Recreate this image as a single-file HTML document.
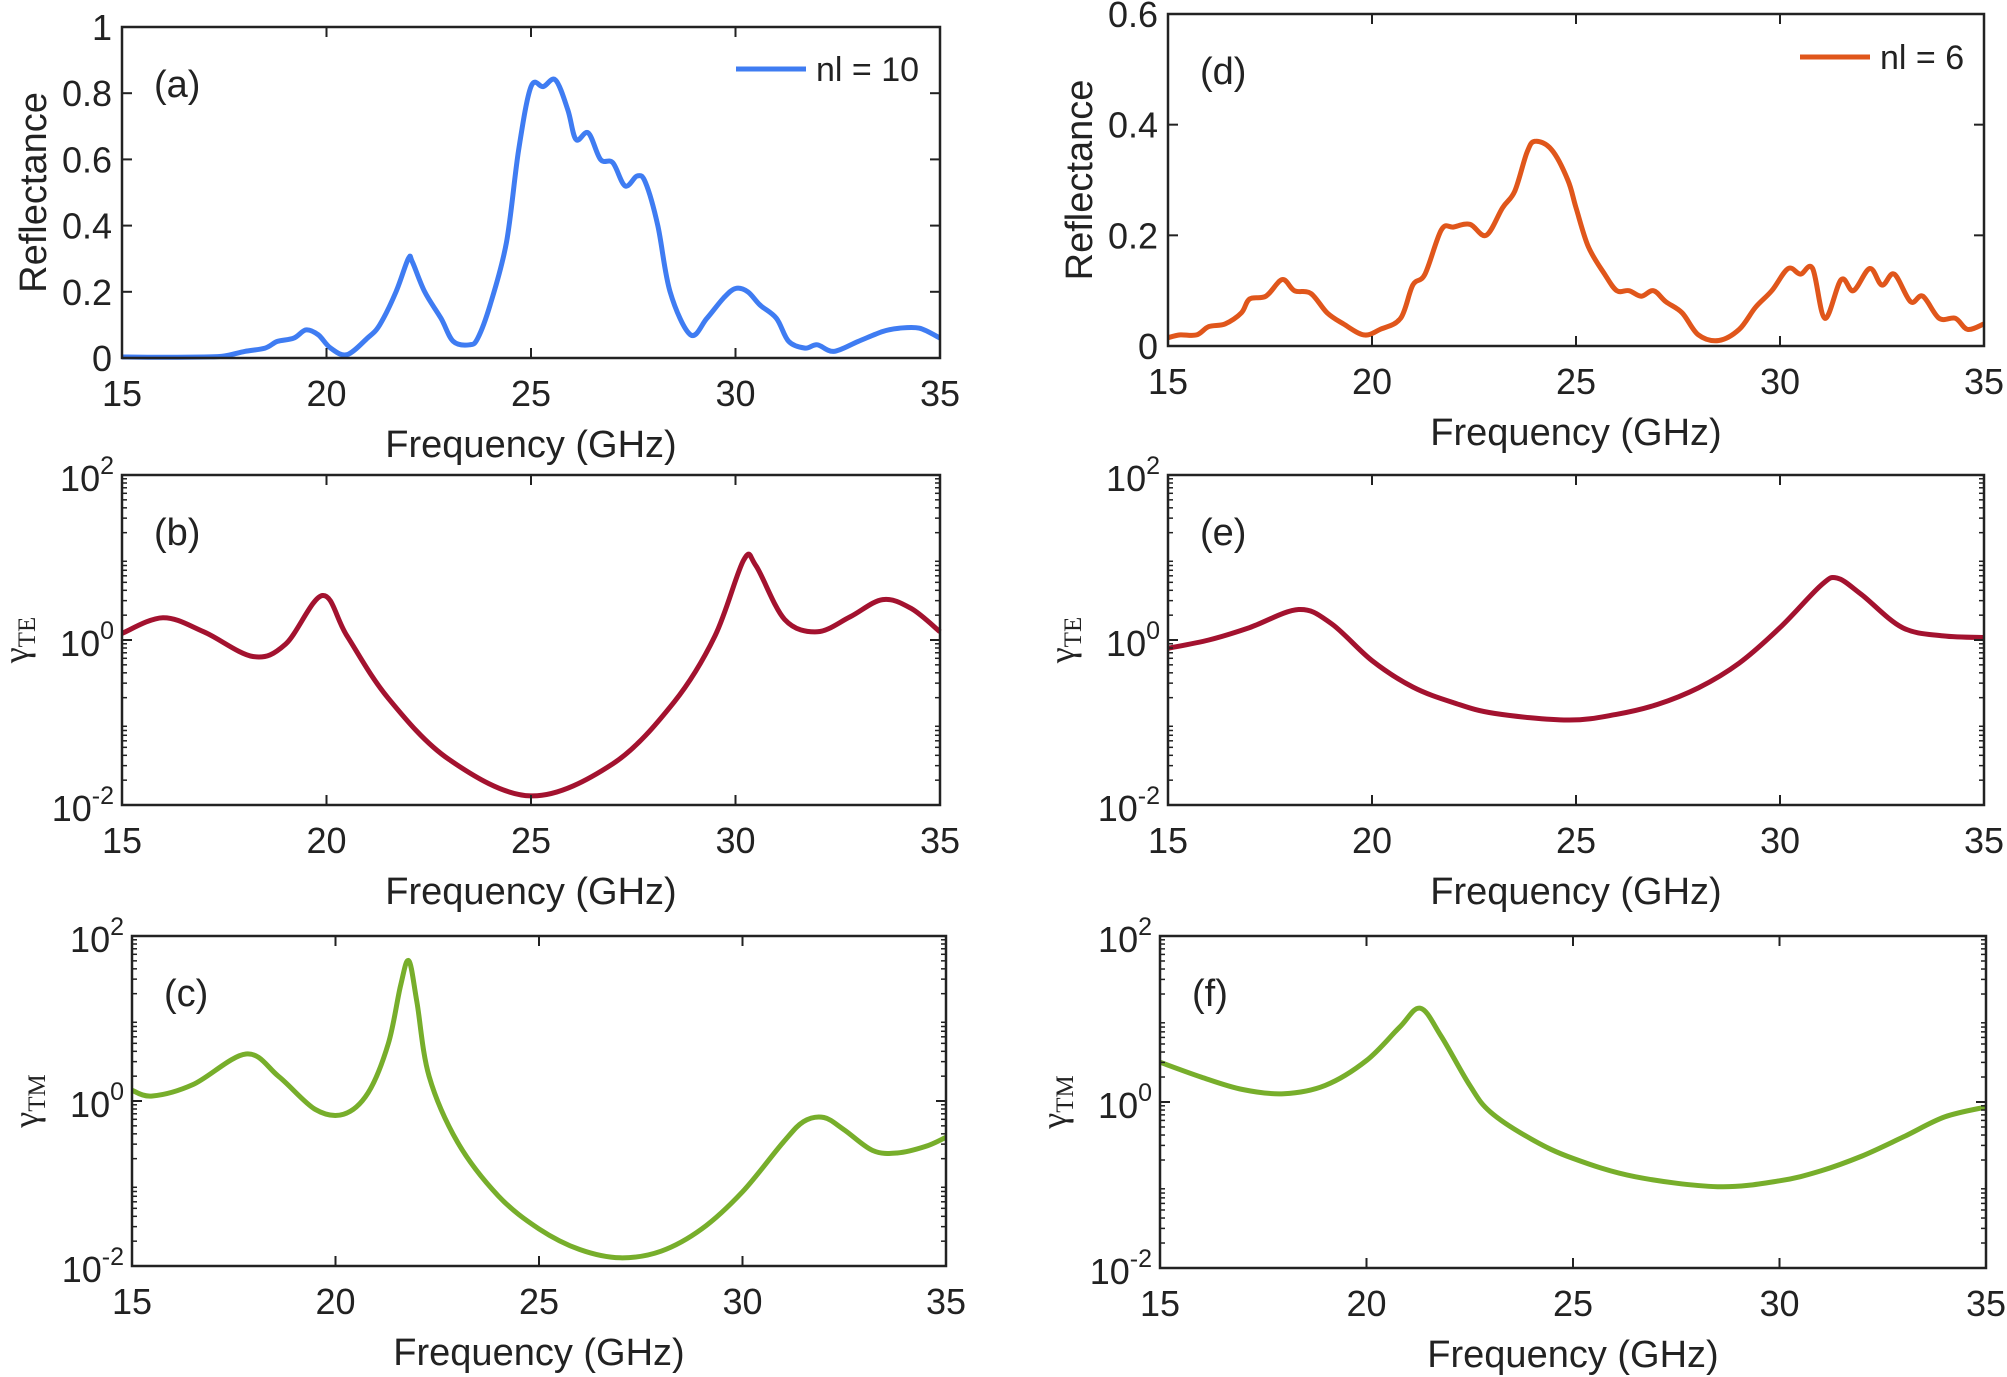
<!DOCTYPE html>
<html><head><meta charset="utf-8"><style>
html,body{margin:0;padding:0;background:#fff;}
svg{display:block;}
text{font-family:"Liberation Sans",sans-serif;fill:#222;}
</style></head><body>
<svg id="s" width="2007" height="1377" viewBox="0 0 2007 1377" xmlns="http://www.w3.org/2000/svg"></svg>
<script>
const S=document.getElementById('s');let h='';
function cr(pts){let d='M'+pts[0][0].toFixed(1)+','+pts[0][1].toFixed(1);
for(let i=0;i<pts.length-1;i++){const p0=pts[Math.max(0,i-1)],p1=pts[i],p2=pts[i+1],p3=pts[Math.min(pts.length-1,i+2)];
const c1=[p1[0]+(p2[0]-p0[0])/6,p1[1]+(p2[1]-p0[1])/6],c2=[p2[0]-(p3[0]-p1[0])/6,p2[1]-(p3[1]-p1[1])/6];
d+=' C'+c1.map(v=>v.toFixed(1))+' '+c2.map(v=>v.toFixed(1))+' '+p2.map(v=>v.toFixed(1));}return d;}
function panel(o){const {x0,x1,y0,y1,ymin,ymax,log,data,color,lab,ylab,yticks}=o;
const X=f=>x0+(f-15)/20*(x1-x0),Y=v=>y1-(v-ymin)/(ymax-ymin)*(y1-y0);
h+=`<path d="${cr(data.map(p=>[X(p[0]),Y(p[1])]))}" fill="none" stroke="${color}" stroke-width="5" stroke-linejoin="round"/>`;
h+=`<rect x="${x0}" y="${y0}" width="${x1-x0}" height="${y1-y0}" fill="none" stroke="#222" stroke-width="2.5"/>`;
for(let f=15;f<=35;f+=5){const x=X(f);h+=`<line x1="${x}" y1="${y1}" x2="${x}" y2="${y1-10}" stroke="#222" stroke-width="2"/><line x1="${x}" y1="${y0}" x2="${x}" y2="${y0+10}" stroke="#222" stroke-width="2"/>`;
h+=`<text x="${x}" y="${y1+48}" font-size="36" text-anchor="middle">${f}</text>`;}
if(log){for(let d=-2;d<=2;d+=2){const y=Y(d);h+=`<line x1="${x0}" y1="${y}" x2="${x0+10}" y2="${y}" stroke="#222" stroke-width="2"/><line x1="${x1}" y1="${y}" x2="${x1-10}" y2="${y}" stroke="#222" stroke-width="2"/>`;
h+=`<text x="${x0-8}" y="${y+16}" font-size="36" text-anchor="end">10<tspan dy="-17" font-size="25">${d}</tspan></text>`;}
for(let d=-2;d<2;d++)for(let k=2;k<=9;k++){const y=Y(d+Math.log10(k));h+=`<line x1="${x0}" y1="${y}" x2="${x0+5}" y2="${y}" stroke="#222" stroke-width="1.5"/><line x1="${x1}" y1="${y}" x2="${x1-5}" y2="${y}" stroke="#222" stroke-width="1.5"/>`;}
h+=`<text transform="translate(${x0-94},${(y0+y1)/2}) rotate(-90)" font-size="36" text-anchor="middle" style="font-family:'Liberation Serif',serif">γ<tspan font-size="25" dy="7">${ylab}</tspan></text>`;
}else{yticks.forEach(t=>{const y=Y(t);h+=`<line x1="${x0}" y1="${y}" x2="${x0+10}" y2="${y}" stroke="#222" stroke-width="2"/><line x1="${x1}" y1="${y}" x2="${x1-10}" y2="${y}" stroke="#222" stroke-width="2"/>`;
h+=`<text x="${x0-10}" y="${y+13}" font-size="36" text-anchor="end">${t}</text>`;});
h+=`<text transform="translate(${x0-76},${(y0+y1)/2}) rotate(-90)" font-size="38" text-anchor="middle">Reflectance</text>`;}
h+=`<text x="${(x0+x1)/2}" y="${y1+99}" font-size="38" text-anchor="middle">Frequency (GHz)</text>`;
h+=`<text x="${x0+32}" y="${y0+70}" font-size="38">${lab}</text>`;}
panel({x0:122,x1:940,y0:27,y1:358,ymin:0,ymax:1,yticks:[0,0.2,0.4,0.6,0.8,1],color:'#3f7cf2',lab:'(a)',data:[[15,.003],[16,.002],[17,.003],[17.5,.006],[18,.02],[18.5,.03],[18.8,.05],[19.2,.06],[19.5,.085],[19.8,.07],[20.1,.03],[20.5,.01],[21,.06],[21.3,.1],[21.7,.2],[22,.3],[22.1,.29],[22.4,.2],[22.8,.12],[23.1,.05],[23.5,.04],[23.7,.06],[24,.16],[24.4,.35],[24.7,.63],[25,.82],[25.3,.82],[25.6,.84],[25.9,.75],[26.1,.66],[26.4,.68],[26.7,.6],[27,.59],[27.3,.52],[27.6,.55],[27.8,.53],[28.1,.4],[28.4,.2],[28.9,.07],[29.3,.12],[29.7,.18],[30,.21],[30.3,.2],[30.6,.16],[31,.12],[31.3,.05],[31.7,.03],[32,.04],[32.4,.02],[33,.05],[33.6,.08],[34,.09],[34.5,.09],[35,.06]]});
panel({x0:1168,x1:1984,y0:14,y1:346,ymin:0,ymax:0.6,yticks:[0,0.2,0.4,0.6],color:'#e0561b',lab:'(d)',data:[[15,.015],[15.3,.02],[15.7,.02],[16,.035],[16.4,.04],[16.8,.06],[17,.085],[17.4,.09],[17.8,.12],[18.1,.1],[18.5,.095],[18.9,.06],[19.3,.04],[19.8,.02],[20.2,.03],[20.7,.05],[21,.11],[21.3,.13],[21.7,.21],[22,.215],[22.4,.22],[22.8,.2],[23.2,.25],[23.5,.28],[23.8,.35],[24,.37],[24.4,.355],[24.8,.3],[25,.25],[25.3,.18],[25.7,.13],[26,.1],[26.3,.1],[26.6,.09],[26.9,.1],[27.2,.08],[27.6,.06],[28,.02],[28.5,.01],[29,.03],[29.4,.07],[29.8,.1],[30.2,.14],[30.5,.13],[30.8,.14],[31.1,.05],[31.5,.12],[31.8,.1],[32.2,.14],[32.5,.11],[32.8,.13],[33.2,.08],[33.5,.09],[33.9,.05],[34.3,.05],[34.6,.03],[35,.04]]});
panel({x0:122,x1:940,y0:475,y1:805,ymin:-2,ymax:2,log:1,ylab:'TE',color:'#a3122f',lab:'(b)',data:[[15,.08],[16,.27],[17,.1],[18.2,-.2],[19,-.05],[19.9,.54],[20.5,.05],[21.5,-.7],[23,-1.45],[25,-1.89],[27,-1.5],[28.5,-.75],[29.5,.05],[30.2,.97],[30.5,.9],[31.2,.25],[32,.1],[32.8,.28],[33.6,.49],[34.3,.38],[35,.1]]});
panel({x0:1168,x1:1984,y0:475,y1:805,ymin:-2,ymax:2,log:1,ylab:'TE',color:'#a3122f',lab:'(e)',data:[[15,-.1],[16,0],[17,.15],[18.2,.37],[19,.2],[20,-.25],[21,-.57],[22,-.76],[23,-.89],[24.8,-.97],[26,-.9],[27,-.78],[28,-.58],[29,-.28],[30,.15],[31,.66],[31.4,.75],[32,.55],[33,.15],[34,.05],[35,.03]]});
panel({x0:132,x1:946,y0:936,y1:1266,ymin:-2,ymax:2,log:1,ylab:'TM',color:'#77ae2b',lab:'(c)',data:[[15,.13],[15.5,.06],[16.5,.2],[17.8,.57],[18.6,.3],[19.5,-.1],[20.2,-.16],[20.8,.1],[21.3,.7],[21.6,1.4],[21.8,1.7],[22,1.2],[22.3,.3],[23,-.5],[24,-1.15],[25,-1.55],[26,-1.8],[27,-1.9],[28,-1.82],[29,-1.55],[30,-1.1],[31,-.5],[31.5,-.25],[32,-.2],[32.5,-.35],[33.2,-.6],[33.8,-.63],[34.5,-.55],[35,-.44]]});
panel({x0:1160,x1:1986,y0:936,y1:1268,ymin:-2,ymax:2,log:1,ylab:'TM',color:'#77ae2b',lab:'(f)',data:[[15,.48],[16,.3],[17,.15],[18,.1],[19,.2],[20,.5],[20.8,.9],[21.3,1.13],[21.8,.8],[22.5,.2],[23,-.12],[24,-.45],[25,-.68],[26.5,-.9],[28.5,-1.02],[30,-.95],[31,-.83],[32,-.65],[33,-.42],[34,-.18],[35,-.06]]});
h+=`<line x1="736" y1="69" x2="806" y2="69" stroke="#3f7cf2" stroke-width="5"/><text x="816" y="81" font-size="34">nl = 10</text>`;
h+=`<line x1="1800" y1="57" x2="1870" y2="57" stroke="#e0561b" stroke-width="5"/><text x="1880" y="69" font-size="34">nl = 6</text>`;
S.innerHTML=h;
</script>
</body></html>
